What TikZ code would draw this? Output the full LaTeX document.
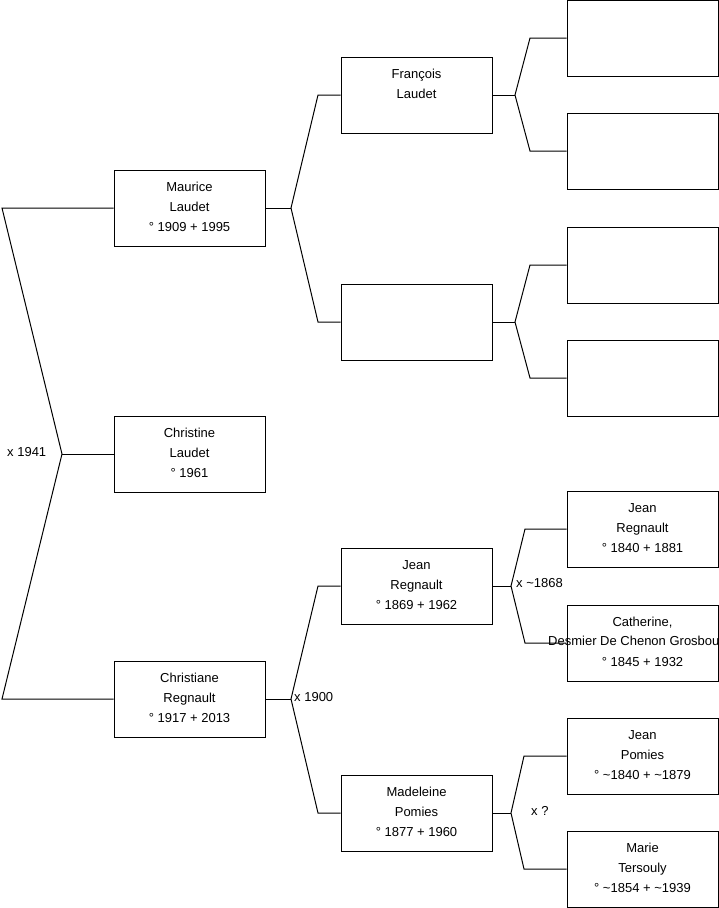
\documentclass[tikz,border=0pt]{standalone}
\usepackage{fontspec}
\setmainfont{Liberation Sans}
\newcommand\lstrut{\rule[-6.5pt]{0pt}{20pt}}
\newcommand\threelines[3]{\lstrut #1\\\lstrut #2\\\lstrut #3}
\begin{document}
\begin{tikzpicture}[x=1pt,y=-1pt,
  person/.style={draw=black, line width=1pt, minimum width=151pt, minimum height=76pt,
    inner sep=0pt, align=center, font=\fontsize{13}{20}\selectfont},
  link/.style={line width=1pt},
  marr/.style={anchor=base west, inner sep=0pt, font=\fontsize{13}{20}\selectfont}]
\useasboundingbox (0,0) rectangle (719,908);

% generation 1
\node[person] (mau) at (189.5,208) {\threelines{Maurice}{Laudet}{° 1909 + 1995}};
\node[person] (chr) at (189.5,454) {\threelines{Christine}{Laudet}{° 1961}};
\node[person] (cha) at (189.5,699) {\threelines{Christiane}{Regnault}{° 1917 + 2013}};

% generation 2
\node[person] (fra) at (416.5,95) {\threelines{François}{Laudet}{}};
\node[person] (bla) at (416.5,322) {};
\node[person] (jre) at (416.5,586) {\threelines{Jean}{Regnault}{° 1869 + 1962}};
\node[person] (mad) at (416.5,813) {\threelines{Madeleine}{Pomies}{° 1877 + 1960}};

% generation 3
\node[person] (g1) at (642.5,38) {};
\node[person] (g2) at (642.5,151) {};
\node[person] (g3) at (642.5,265) {};
\node[person] (g4) at (642.5,378) {};
\node[person] (g5) at (642.5,529) {\threelines{Jean}{Regnault}{° 1840 + 1881}};
\node[person] (g6) at (642.5,643) {\threelines{Catherine,}{}{° 1845 + 1932}};
\node[marr] (g6name) at (548,645.5) {Desmier De Chenon Grosbou};
\node[person] (g7) at (642.5,756) {\threelines{Jean}{Pomies}{° \textasciitilde1840 + \textasciitilde1879}};
\node[person] (g8) at (642.5,869) {\threelines{Marie}{Tersouly}{° \textasciitilde1854 + \textasciitilde1939}};

% fork coordinates
\coordinate (a0) at (2,208);
\coordinate (v0) at (62,454);
\coordinate (b0) at (2,699);
\coordinate (v1) at (291,208);
\coordinate (a1) at (318,95);
\coordinate (b1) at (318,322);
\coordinate (v2) at (515,95);
\coordinate (a2) at (530,38);
\coordinate (b2) at (530,151);
\coordinate (v3) at (515,322);
\coordinate (a3) at (530,265);
\coordinate (b3) at (530,378);
\coordinate (v4) at (291,699);
\coordinate (a4) at (318,586);
\coordinate (b4) at (318,813);
\coordinate (v5) at (511,586);
\coordinate (a5) at (525,529);
\coordinate (b5) at (525,643);
\coordinate (v6) at (511,813);
\coordinate (a6) at (524,756);
\coordinate (b6) at (524,869);

% connectors
\draw[link] (mau.west) -- (a0) -- (v0) -- (b0) -- (cha.west);
\draw[link] (v0) -- (chr.west);
\draw[link] (mau.east) -- (v1);
\draw[link] (fra.west) -- (a1) -- (v1) -- (b1) -- (bla.west);
\draw[link] (fra.east) -- (v2);
\draw[link] (g1.west) -- (a2) -- (v2) -- (b2) -- (g2.west);
\draw[link] (bla.east) -- (v3);
\draw[link] (g3.west) -- (a3) -- (v3) -- (b3) -- (g4.west);
\draw[link] (cha.east) -- (v4);
\draw[link] (jre.west) -- (a4) -- (v4) -- (b4) -- (mad.west);
\draw[link] (jre.east) -- (v5);
\draw[link] (g5.west) -- (a5) -- (v5) -- (b5) -- (g6.west);
\draw[link] (mad.east) -- (v6);
\draw[link] (g7.west) -- (a6) -- (v6) -- (b6) -- (g8.west);

% marriage labels
\node[marr] (m1941) at (7,456.5) {x 1941};
\node[marr] (m1900) at (294,701.5) {x 1900};
\node[marr] (m1868) at (516,587.5) {x \textasciitilde1868};
\node[marr] (mq) at (531,815.5) {x ?};
\end{tikzpicture}
\end{document}
